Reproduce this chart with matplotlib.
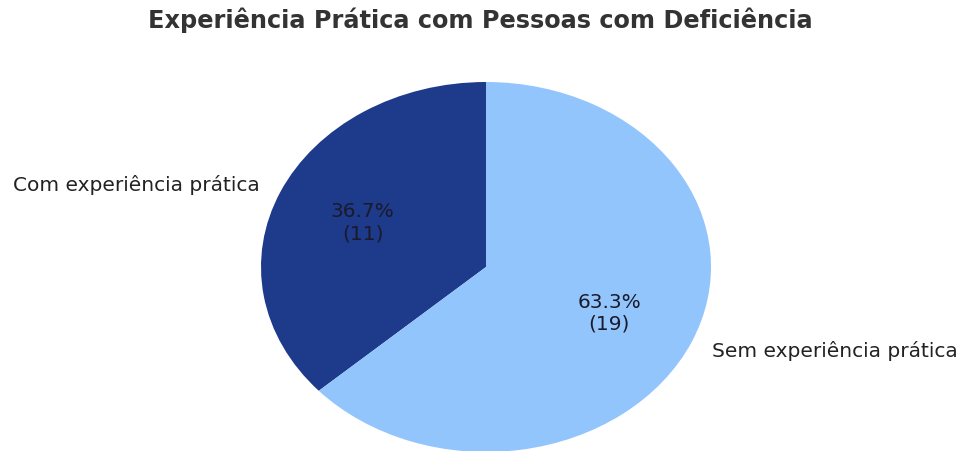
import matplotlib
matplotlib.use("Agg")
import matplotlib.pyplot as plt

labels = ["Com experiência prática", "Sem experiência prática"]
counts = [11, 19]
colors = ["#1e3a8a", "#93c5fd"]

total = sum(counts)

def fmt(pct):
    n = int(round(pct * total / 100.0))
    return f"{pct:.1f}%\n({n})"

fig = plt.figure(figsize=(9.61, 4.52), dpi=100)
# pie is drawn as an ellipse, like the reference
ax = fig.add_axes([261 / 961, -1 / 452, 450 / 961, 370 / 452])
wedges, texts, autotexts = ax.pie(counts, labels=labels, colors=colors,
                                  autopct=fmt, startangle=90,
                                  textprops={"fontsize": 14.5, "color": "#222222"})
for t in autotexts:
    t.set_color("#1a1a2a")
    t.set_fontsize(14.5)
ax.set_aspect("auto")
ax.set_xlim(-1, 1)
ax.set_ylim(-1, 1)

fig.suptitle("Experiência Prática com Pessoas com Deficiência",
             fontsize=17.3, fontweight="bold", color="#333333", y=0.984)

fig.savefig("out.png", dpi=100)
